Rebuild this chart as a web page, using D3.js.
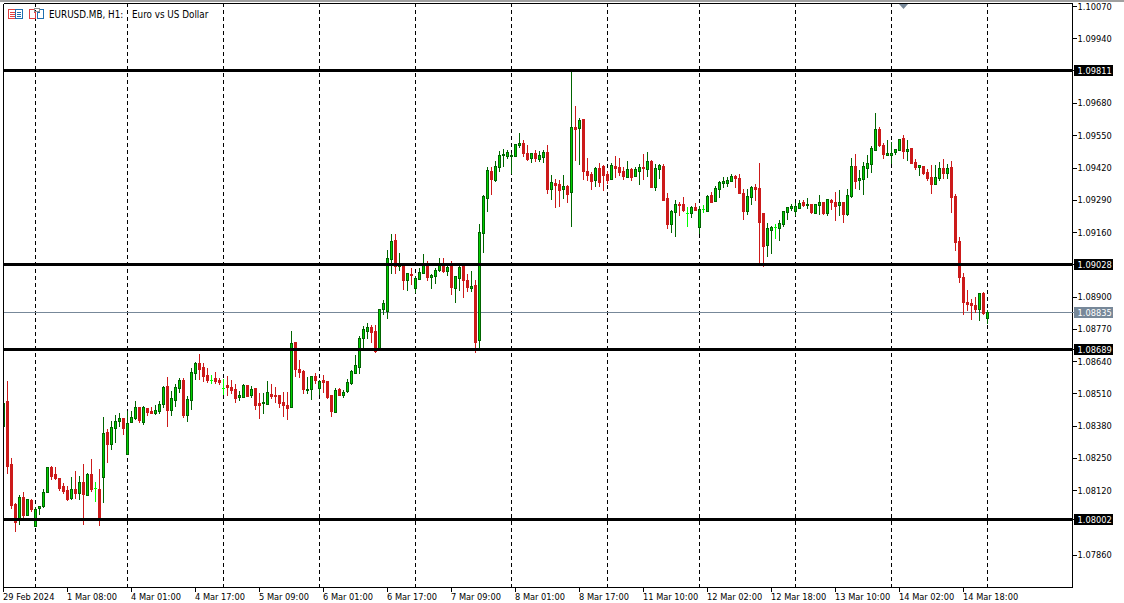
<!DOCTYPE html>
<html><head><meta charset="utf-8">
<style>html,body{margin:0;padding:0;background:#fff;overflow:hidden}svg{display:block}text{font-family:"DejaVu Sans Condensed","DejaVu Sans",sans-serif;font-stretch:condensed;font-size:9.2px;fill:#000}text.ttl{font-size:9.8px}</style>
<script src="https://cdn.jsdelivr.net/npm/d3@7/dist/d3.min.js"></script>
</head><body><svg id="c" width="1124" height="603"></svg>
<script>
const opens=[1.08376,1.08479,1.08225,1.08064,1.08007,1.08092,1.08021,1.0808,1.07977,1.08045,1.08053,1.0811,1.08213,1.08184,1.08169,1.08137,1.08121,1.08086,1.08125,1.08106,1.08152,1.08101,1.08184,1.08127,1.08125,1.0817,1.08353,1.08306,1.0837,1.08395,1.08409,1.08266,1.08392,1.08411,1.08454,1.08395,1.08451,1.08439,1.08431,1.08439,1.08467,1.0854,1.08443,1.08483,1.08532,1.08564,1.08423,1.08483,1.08593,1.08632,1.08613,1.08581,1.08562,1.08569,1.08561,1.08531,1.08544,1.08536,1.08528,1.08492,1.08496,1.08544,1.08504,1.08532,1.08468,1.08468,1.08468,1.08508,1.085,1.085,1.08472,1.08463,1.08453,1.08714,1.08608,1.08597,1.08524,1.08524,1.08577,1.08528,1.08561,1.08557,1.085,1.08436,1.08528,1.08504,1.08516,1.08549,1.08589,1.08613,1.08730,1.08758,1.08774,1.08758,1.08686,1.08847,1.08839,1.09048,1.09125,1.09021,1.09024,1.08964,1.08989,1.08931,1.08968,1.08992,1.09028,1.08976,1.0898,1.09004,1.09028,1.09,1.0902,1.08931,1.08972,1.0902,1.08964,1.08935,1.08947,1.08722,1.09153,1.09294,1.09403,1.09367,1.09419,1.09465,1.09467,1.09461,1.09463,1.09508,1.09516,1.09479,1.09455,1.09475,1.09451,1.09463,1.09483,1.09334,1.09358,1.09354,1.09334,1.09346,1.09319,1.09582,1.09575,1.09612,1.09406,1.09394,1.0937,1.09418,1.09426,1.09394,1.09374,1.09426,1.09422,1.09406,1.09382,1.09414,1.09386,1.09406,1.09422,1.09414,1.09446,1.09342,1.09414,1.09426,1.09297,1.09193,1.09241,1.09273,1.09273,1.09237,1.09237,1.09261,1.0918,1.09253,1.09245,1.09309,1.09285,1.09334,1.09358,1.09358,1.09366,1.09386,1.09378,1.09317,1.09245,1.09301,1.09342,1.09334,1.09234,1.09105,1.09165,1.09177,1.09173,1.09189,1.09238,1.09254,1.09242,1.09254,1.09278,1.09266,1.0927,1.09234,1.09266,1.09278,1.09234,1.09286,1.09278,1.09266,1.09278,1.0923,1.09302,1.09423,1.09367,1.09371,1.09415,1.09431,1.09488,1.09572,1.09508,1.09471,1.09471,1.09479,1.09488,1.09536,1.09483,1.09496,1.09439,1.09419,1.09423,1.09399,1.09379,1.09351,1.09375,1.09415,1.09395,1.09419,1.09302,1.09121,1.08976,1.08875,1.08871,1.08863,1.08847,1.08911,1.08811];
const highs=[1.0847,1.0856,1.0825,1.08067,1.08101,1.08113,1.08086,1.08083,1.08051,1.08056,1.08125,1.08215,1.08217,1.08213,1.08169,1.08148,1.08137,1.08173,1.08197,1.08177,1.08225,1.08188,1.08246,1.08153,1.08205,1.08415,1.08365,1.08399,1.08423,1.0843,1.08409,1.08439,1.08439,1.08479,1.08455,1.08459,1.08452,1.08455,1.08463,1.08479,1.0854,1.08576,1.0852,1.08548,1.08571,1.08572,1.08499,1.08612,1.08636,1.08669,1.08632,1.08612,1.08585,1.08597,1.08573,1.08567,1.08581,1.08563,1.08549,1.0852,1.08549,1.08544,1.0854,1.08532,1.08512,1.08511,1.08561,1.08549,1.08536,1.08504,1.08515,1.08516,1.08762,1.08718,1.08645,1.08604,1.08577,1.08581,1.08593,1.08565,1.08585,1.08557,1.08504,1.08531,1.08532,1.08524,1.08569,1.08605,1.08665,1.08742,1.08782,1.08794,1.08786,1.08786,1.08851,1.08887,1.09088,1.09153,1.09153,1.09076,1.09028,1.08996,1.09016,1.08985,1.09016,1.09072,1.09044,1.08992,1.09016,1.09056,1.09056,1.09024,1.09044,1.08985,1.09028,1.0902,1.08992,1.09004,1.08968,1.09193,1.0931,1.09423,1.09423,1.09447,1.09487,1.09495,1.09491,1.0948,1.09516,1.0956,1.09532,1.09512,1.09479,1.09491,1.09487,1.09491,1.09512,1.09391,1.09375,1.09371,1.09391,1.0935,1.09806,1.09668,1.0962,1.09612,1.09458,1.09402,1.09422,1.09438,1.0943,1.09406,1.09438,1.09467,1.09458,1.09422,1.09446,1.09418,1.09422,1.09434,1.09475,1.09483,1.0945,1.09434,1.09434,1.09434,1.09317,1.09249,1.09289,1.09281,1.09301,1.09261,1.09265,1.09277,1.09265,1.09269,1.09309,1.09321,1.09346,1.09366,1.09382,1.09382,1.09394,1.0939,1.09394,1.09334,1.09334,1.09346,1.09354,1.09438,1.09234,1.09197,1.09185,1.09193,1.0921,1.09246,1.09262,1.09274,1.09278,1.0929,1.0929,1.09298,1.0927,1.09274,1.0931,1.09282,1.0929,1.09294,1.09322,1.0933,1.09282,1.09334,1.09459,1.09475,1.09411,1.09443,1.09471,1.09508,1.09641,1.09584,1.0952,1.09532,1.09524,1.09496,1.09532,1.09552,1.09532,1.095,1.09455,1.09431,1.09427,1.09415,1.09431,1.09431,1.09443,1.09455,1.09435,1.09447,1.09314,1.09141,1.08996,1.08927,1.08891,1.08899,1.08911,1.08919,1.08847];
const lows=[1.08376,1.08185,1.08044,1.07953,1.0798,1.08007,1.08019,1.08032,1.07971,1.0802,1.08049,1.08107,1.08161,1.08161,1.08118,1.08106,1.08076,1.0808,1.08084,1.0808,1.0798,1.08098,1.08113,1.08072,1.07977,1.08068,1.08229,1.08282,1.08309,1.08374,1.08342,1.08262,1.08389,1.08403,1.08389,1.08383,1.08419,1.08427,1.08423,1.08427,1.0845,1.08374,1.08419,1.08455,1.08511,1.08411,1.08395,1.08443,1.08564,1.08564,1.08554,1.08551,1.08549,1.08546,1.08543,1.08502,1.085,1.08508,1.08472,1.0848,1.08492,1.08496,1.08492,1.08444,1.08408,1.08428,1.08468,1.08488,1.08472,1.08452,1.08416,1.08403,1.08453,1.08577,1.08573,1.08508,1.08508,1.08484,1.08549,1.08504,1.08512,1.08488,1.08416,1.08432,1.085,1.08492,1.08512,1.08544,1.08589,1.08589,1.08694,1.0873,1.08714,1.08673,1.08686,1.08827,1.0881,1.08992,1.08992,1.09004,1.08927,1.08923,1.08947,1.08915,1.08968,1.08992,1.08964,1.08931,1.08952,1.09,1.08996,1.08984,1.08907,1.08875,1.08923,1.08895,1.08919,1.08919,1.08674,1.08694,1.09076,1.09242,1.0931,1.09362,1.09403,1.09423,1.09455,1.09395,1.09463,1.09499,1.09463,1.09447,1.09439,1.09443,1.09443,1.09439,1.09314,1.0929,1.09258,1.09262,1.09294,1.09278,1.0918,1.09446,1.0943,1.0937,1.09366,1.0933,1.09342,1.09342,1.09324,1.09354,1.0937,1.09378,1.09386,1.0937,1.09378,1.09366,1.09386,1.0935,1.0937,1.09382,1.09338,1.09325,1.09374,1.09289,1.09172,1.09156,1.0914,1.09225,1.09241,1.0918,1.09217,1.09249,1.09152,1.09237,1.09245,1.09281,1.09281,1.09297,1.09338,1.09342,1.09362,1.09338,1.09313,1.09209,1.09229,1.09269,1.09285,1.09034,1.0902,1.0906,1.09073,1.09133,1.09125,1.09181,1.0921,1.09246,1.09226,1.09254,1.09262,1.09254,1.09234,1.09234,1.0923,1.0923,1.09226,1.0925,1.09205,1.09226,1.09197,1.09226,1.09298,1.09334,1.0933,1.0931,1.09379,1.09399,1.09488,1.09504,1.09455,1.09467,1.09435,1.09471,1.09488,1.09455,1.09447,1.09435,1.09411,1.09387,1.09391,1.09367,1.09314,1.09351,1.09367,1.09375,1.09375,1.09238,1.09085,1.08956,1.08827,1.08843,1.08807,1.08835,1.08803,1.08827,1.08791];
const closes=[1.0847,1.08219,1.08058,1.07993,1.08091,1.08021,1.08084,1.08044,1.08044,1.08055,1.08111,1.08212,1.08178,1.08166,1.08129,1.08118,1.08084,1.08123,1.08109,1.08152,1.08102,1.08184,1.08125,1.08127,1.08007,1.08349,1.08306,1.08373,1.08399,1.08409,1.0837,1.08389,1.08413,1.08454,1.084,1.08455,1.08435,1.08431,1.08443,1.08466,1.08536,1.08443,1.0849,1.08536,1.08564,1.08423,1.08487,1.08596,1.08632,1.08608,1.08577,1.08561,1.08562,1.08557,1.08551,1.08531,1.08536,1.08524,1.08492,1.085,1.08544,1.085,1.08528,1.08464,1.08461,1.08472,1.08515,1.085,1.08498,1.08468,1.0846,1.08452,1.08712,1.08605,1.08597,1.08524,1.08528,1.08577,1.08561,1.08557,1.08553,1.08492,1.08436,1.08524,1.08504,1.08516,1.08553,1.08597,1.08621,1.0873,1.08766,1.08774,1.08754,1.08677,1.08847,1.08871,1.09052,1.09121,1.09021,1.09028,1.08964,1.08992,1.08986,1.08972,1.08996,1.09028,1.08976,1.08984,1.09004,1.09028,1.09,1.09016,1.08935,1.0898,1.09016,1.08964,1.08935,1.08943,1.08718,1.09157,1.09302,1.09407,1.09371,1.09423,1.09467,1.09471,1.09483,1.09467,1.09512,1.09516,1.09475,1.09455,1.09475,1.09455,1.09467,1.09483,1.09334,1.09362,1.0935,1.0933,1.09346,1.09314,1.09582,1.09575,1.09608,1.09402,1.0939,1.09366,1.09418,1.09362,1.0939,1.0937,1.0943,1.09418,1.09402,1.09386,1.09414,1.09382,1.09414,1.09422,1.09418,1.09446,1.09342,1.09418,1.0943,1.09289,1.09193,1.09245,1.09273,1.0927,1.09249,1.09237,1.09261,1.09249,1.09253,1.09253,1.09305,1.09281,1.09338,1.09362,1.09366,1.0937,1.09386,1.09378,1.09317,1.09245,1.09305,1.09342,1.09334,1.09197,1.09101,1.09173,1.09177,1.09177,1.09193,1.09242,1.09258,1.09262,1.09262,1.09274,1.09266,1.0927,1.09238,1.0927,1.09278,1.09234,1.0929,1.09278,1.09262,1.09278,1.0923,1.09306,1.09423,1.09363,1.09375,1.09423,1.09435,1.09496,1.09572,1.09508,1.09471,1.09479,1.09479,1.09492,1.09532,1.09483,1.09492,1.09435,1.09419,1.09427,1.09395,1.09375,1.09351,1.09379,1.09415,1.09395,1.09415,1.09298,1.09117,1.08976,1.08875,1.08867,1.08863,1.08847,1.08911,1.08831,1.08835];
const levels=[1.09811,1.09028,1.08689,1.08002];
const currentPrice=1.08835;
const priceTicks=[1.1007,1.0994,1.0968,1.0955,1.0942,1.0929,1.0916,1.089,1.0877,1.0864,1.0851,1.0838,1.0825,1.0812,1.0786];
const separators=[8,31,55,79,103,127,151,174,198,222,246];
const timeLabels=["29 Feb 2024","1 Mar 08:00","4 Mar 01:00","4 Mar 17:00","5 Mar 09:00","6 Mar 01:00","6 Mar 17:00","7 Mar 09:00","8 Mar 01:00","8 Mar 17:00","11 Mar 10:00","12 Mar 02:00","12 Mar 18:00","13 Mar 10:00","14 Mar 02:00","14 Mar 18:00"];
const timeLabelIndex=[0,16,32,48,64,80,96,112,128,144,160,176,192,208,224,240];
const title="EURUSD.MB, H1:", subtitle="Euro vs US Dollar";

const svg=d3.select("#c");
const L=3,R=1072,T=3,B=587;
const x=d3.scaleLinear().domain([0,246]).range([3,987]);
const y=d3.scaleLinear().domain([1.08002,1.09811]).range([519.5,70.5]);
const snap=v=>Math.round(v-0.4)+0.5;
svg.append("defs").append("clipPath").attr("id","plot").append("rect").attr("x",L+1).attr("y",T+1).attr("width",R-L-1).attr("height",B-T-1);
const plot=svg.append("g").attr("clip-path","url(#plot)").attr("shape-rendering","crispEdges");

plot.selectAll("line.sep").data(separators).join("line").attr("class","sep")
 .attr("x1",d=>x(d)+.5).attr("x2",d=>x(d)+.5).attr("y1",T).attr("y2",B)
 .attr("stroke","#000").attr("stroke-dasharray","4 3");

plot.append("line").attr("x1",L).attr("x2",R).attr("y1",snap(y(currentPrice))).attr("y2",snap(y(currentPrice))).attr("stroke","#778899");

const up="#00d000",upEdge="#006400",dn="#cc1a1a";
const idx=d3.range(opens.length);
const col=i=>opens[i]===closes[i]?"#00ff00":closes[i]>opens[i]?upEdge:dn;
plot.selectAll("line.wick").data(idx).join("line").attr("class","wick")
 .attr("x1",i=>x(i)+.5).attr("x2",i=>x(i)+.5)
 .attr("y1",i=>Math.round(y(highs[i]))).attr("y2",i=>Math.round(y(lows[i])))
 .attr("stroke",col);
plot.selectAll("rect.body").data(idx.filter(i=>opens[i]!==closes[i])).join("rect").attr("class","body")
 .attr("x",i=>x(i)-.5).attr("width",2)
 .attr("y",i=>snap(y(Math.max(opens[i],closes[i]))))
 .attr("height",i=>Math.max(1,Math.round(y(Math.min(opens[i],closes[i]))-y(Math.max(opens[i],closes[i])))))
 .attr("fill",i=>closes[i]>opens[i]?up:dn).attr("stroke",col);
plot.selectAll("line.doji").data(idx.filter(i=>opens[i]===closes[i])).join("line").attr("class","doji")
 .attr("x1",i=>x(i)-1).attr("x2",i=>x(i)+2).attr("y1",i=>snap(y(opens[i]))).attr("y2",i=>snap(y(opens[i]))).attr("stroke","#00ff00");

plot.selectAll("rect.level").data(levels).join("rect").attr("class","level")
 .attr("x",L).attr("width",R-L).attr("y",d=>snap(y(d))-1.5).attr("height",3).attr("fill","#000");

svg.append("polygon").attr("points","899,4 908,4 903.5,9").attr("fill","#778899");

// frame
const frame=svg.append("g").attr("shape-rendering","crispEdges");
frame.append("rect").attr("x",0).attr("y",0).attr("width",1124).attr("height",1.5).attr("fill","#a0a0a0");
[[L+.5,T+.5,L+.5,B+.5],[L+.5,T+.5,R+.5,T+.5],[R+.5,T+.5,R+.5,B+.5],[L+.5,B+.5,R+.5,B+.5]].forEach(a=>frame.append("line").attr("x1",a[0]).attr("y1",a[1]).attr("x2",a[2]).attr("y2",a[3]).attr("stroke","#000"));

// price axis
const axisY=d3.axisRight(y).tickValues(priceTicks).tickFormat(d3.format(".5f")).tickSize(4).tickPadding(1);
const gy=svg.append("g").attr("transform",`translate(${R+.5},0)`).call(axisY);
gy.select(".domain").remove();
gy.selectAll("line").attr("stroke","#000").attr("shape-rendering","crispEdges");
gy.attr("font-family",null).attr("font-size",null);

// flag labels
const flags=svg.append("g");
levels.concat([currentPrice]).forEach(v=>{
  const cy=snap(y(v)), c=v===currentPrice?"#778899":"#000";
  flags.append("rect").attr("x",R+2).attr("y",cy-5.5).attr("width",39).attr("height",11).attr("fill",c).attr("shape-rendering","crispEdges");
  flags.append("line").attr("x1",R).attr("x2",R+4).attr("y1",cy).attr("y2",cy).attr("stroke",c).attr("shape-rendering","crispEdges");
  flags.append("text").attr("x",R+5.5).attr("y",cy+3.5).text(d3.format(".5f")(v)).style("fill","#fff");
});

// time axis
const axisX=svg.append("g");
timeLabelIndex.forEach((d,k)=>{
  const px=x(d);
  axisX.append("line").attr("x1",px+.5).attr("x2",px+.5).attr("y1",B).attr("y2",B+5).attr("stroke","#000").attr("shape-rendering","crispEdges");
  axisX.append("text").attr("x",px).attr("y",600).text(timeLabels[k]);
});

// title & icons
const icons=svg.append("g").attr("shape-rendering","crispEdges").attr("fill","none");
icons.append("rect").attr("x",8.5).attr("y",9.5).attr("width",7).attr("height",9).attr("stroke","#e04040");
icons.append("rect").attr("x",15.5).attr("y",9.5).attr("width",7).attr("height",9).attr("stroke","#2070b0");
[12,14,16].forEach(v=>{icons.append("line").attr("x1",10).attr("x2",15).attr("y1",v+.5).attr("y2",v+.5).attr("stroke","#e04040");icons.append("line").attr("x1",17).attr("x2",21).attr("y1",v+.5).attr("y2",v+.5).attr("stroke","#2070b0");});
icons.append("path").attr("d","M29.5 9.5H34.5V12.5H35.5V18.5H29.5Z").attr("stroke","#e04040");
icons.append("path").attr("d","M39.5 9.5H43.5V18.5H37.5V12.5H39.5Z").attr("stroke","#2070b0");
icons.append("rect").attr("x",34.5).attr("y",8.5).attr("width",5).attr("height",3).attr("stroke","#909090");
svg.append("text").attr("class","ttl").attr("x",49).attr("y",18).text(title);
svg.append("text").attr("class","ttl").attr("x",132).attr("y",18).text(subtitle);
</script></body></html>
